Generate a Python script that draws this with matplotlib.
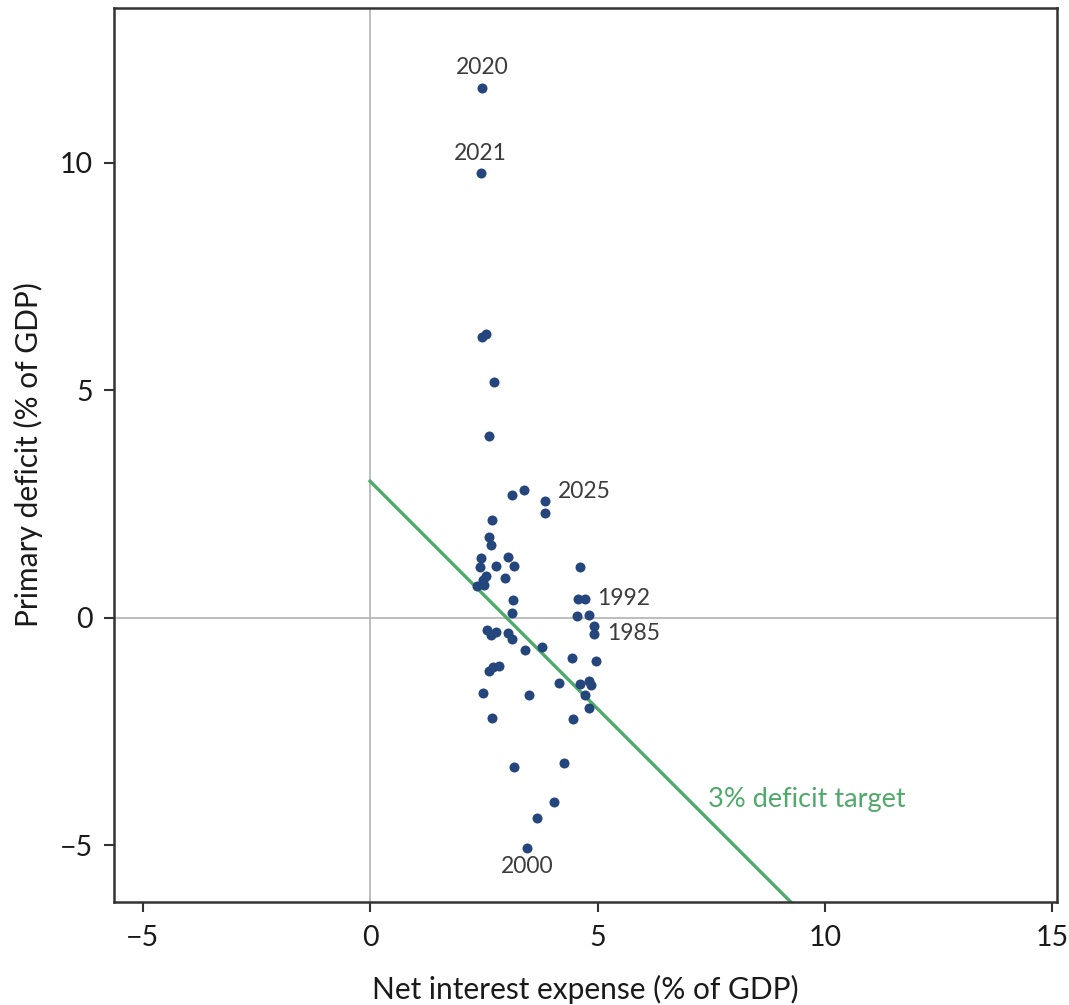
import matplotlib
matplotlib.use("Agg")
import matplotlib.pyplot as plt
import numpy as np

plt.rcParams['font.family'] = ['Lato', 'DejaVu Sans']

# 净利息支出 (% of GDP) 与 基本赤字 (% of GDP)
interest = [2.46, 2.43, 2.46, 2.55, 2.73, 2.62,
            3.12, 3.39, 3.85, 3.85, 2.69, 2.62, 2.65, 2.44, 2.42, 2.77,
            3.04, 3.17, 2.55, 2.49, 2.97, 2.36, 2.51, 3.15, 3.12,
            4.62, 4.57, 4.73, 4.55, 4.82, 4.93, 4.93,
            2.58, 2.65, 2.77, 3.04, 3.12, 3.40, 3.78, 4.43, 4.96,
            2.62, 2.71, 2.84, 4.16, 4.62, 4.82, 4.86, 4.73, 4.82,
            2.49, 3.50, 2.69, 4.46, 3.16, 4.27, 4.04, 3.66, 3.46]
primary = [11.65, 9.77, 6.18, 6.24, 5.19, 3.99,
           2.69, 2.80, 2.57, 2.31, 2.15, 1.77, 1.61, 1.32, 1.11, 1.14,
           1.34, 1.14, 0.92, 0.83, 0.87, 0.70, 0.71, 0.39, 0.11,
           1.11, 0.42, 0.42, 0.04, 0.07, -0.18, -0.36,
           -0.27, -0.38, -0.31, -0.34, -0.47, -0.71, -0.64, -0.89, -0.94,
           -1.16, -1.09, -1.05, -1.43, -1.46, -1.38, -1.48, -1.70, -1.98,
           -1.66, -1.70, -2.20, -2.23, -3.27, -3.20, -4.05, -4.40, -5.05]

# 标注的年份
label_years = ["2020", "2021", "2025", "1992", "1985", "2000"]
label_x = [2.46, 2.43, 3.85, 4.73, 4.93, 3.46]
label_y = [11.65, 9.77, 2.57, 0.42, -0.36, -5.05]
label_off = [(0, 20), (0, 20), (13, 9), (12, 0), (13, 1), (0, -19)]
label_ha = ["center", "center", "left", "left", "left", "center"]

deficit_target = 3.0  # 赤字目标 3%

xticks = [-5, 0, 5, 10, 15]
yticks = [-5, 0, 5, 10]

fig = plt.figure(figsize=(10.69, 10.05), dpi=100)
ax = fig.add_axes([0.1066, 0.1028, 0.8822, 0.8892])

ax.axhline(0, color='#b8b8b8', lw=1.3, zorder=1)
ax.axvline(0, color='#b8b8b8', lw=1.3, zorder=1)

x = np.linspace(0, 10, 50)
ax.plot(x, deficit_target - x, color='#4eaa6a', lw=2.4, zorder=2)
ax.text(7.42, -4.0, "3% deficit target", color='#4eaa6a', fontsize=19.5,
        ha='left', va='center')

ax.scatter(interest, primary, s=52, color='#25467d', zorder=3, linewidths=0)

for yr, lx, ly, off, ha in zip(label_years, label_x, label_y, label_off, label_ha):
    ax.annotate(yr, (lx, ly), xytext=off, textcoords='offset pixels',
                ha=ha, va='center', fontsize=16.5, color='#3c3c3c')

ax.set_xlim(-5.63, 15.1)
ax.set_ylim(-6.24, 13.4)
ax.set_xticks(xticks)
ax.set_yticks(yticks)
ax.set_xticklabels(["\u22125", "0", "5", "10", "15"])
ax.set_yticklabels(["\u22125", "0", "5", "10"])
ax.tick_params(labelsize=20.5, length=7, width=1.5, color='#333333', pad=8,
               labelcolor='#1a1a1a')
ax.tick_params(axis='x', pad=10)
for s in ax.spines.values():
    s.set_color('#333333')
    s.set_linewidth(1.8)

ax.set_xlabel("Net interest expense (% of GDP)", fontsize=21.5, labelpad=17,
              color='#1a1a1a')
ax.set_ylabel("Primary deficit (% of GDP)", fontsize=21.5, labelpad=12,
              color='#1a1a1a')

fig.savefig("out.png", dpi=100)
